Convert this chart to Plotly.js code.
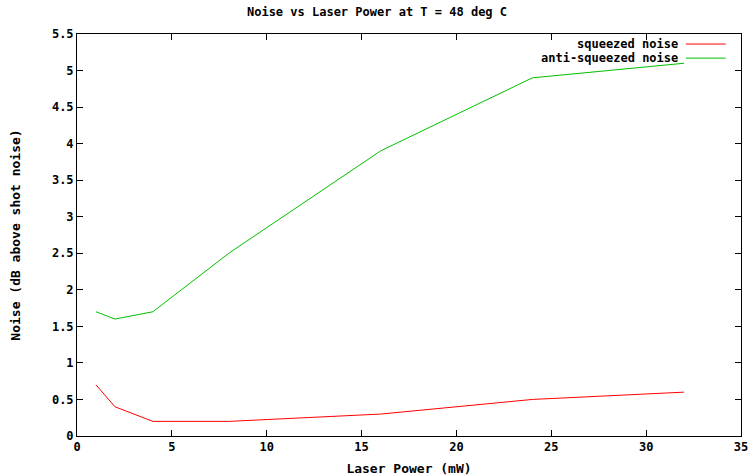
<!DOCTYPE html>
<html><head><meta charset="utf-8">
<script src="https://cdn.plot.ly/plotly-3.0.1.min.js"></script>
<style>body{margin:0;background:#fff}#chart{width:754px;height:476px}</style>
</head><body><div id="chart"></div>
<script>
const power = [1, 2, 4, 8, 16, 24, 32];
const squeezed = [0.7, 0.4, 0.2, 0.2, 0.3, 0.5, 0.6];
const antiSqueezed = [1.7, 1.6, 1.7, 2.5, 3.9, 4.9, 5.1];
const seriesNames = ["squeezed noise", "anti-squeezed noise"];
const seriesColors = ["#ff0000", "#00c000"];

const fam = "DejaVu Sans Mono, monospace";
const font = {family: fam, size: 13, color: "#000"};
const traces = [
  {x: power, y: squeezed, name: seriesNames[0], mode: "lines", line: {color: seriesColors[0], width: 1}},
  {x: power, y: antiSqueezed, name: seriesNames[1], mode: "lines", line: {color: seriesColors[1], width: 1}}
];
const legY = [0.975, 0.94];
const annotations = seriesNames.map((n, i) => ({
  xref: "paper", yref: "paper", x: 0.906, y: legY[i], xanchor: "right", yanchor: "middle",
  text: "<b>" + n + "</b>", showarrow: false, font: {family: fam, size: 12, color: "#000"}, borderpad: 0
}));
const shapes = seriesNames.map((n, i) => ({
  type: "line", xref: "paper", yref: "paper", x0: 0.917, x1: 0.977, y0: legY[i], y1: legY[i],
  line: {color: seriesColors[i], width: 1}
}));
const axisCommon = {
  showgrid: false, zeroline: false, showline: true, mirror: "ticks", linecolor: "#000", linewidth: 1,
  ticks: "inside", ticklen: 6, tickcolor: "#000", tickfont: {family: fam, size: 12, color: "#000", weight: "bold"}
};
const layout = {
  width: 754, height: 476,
  margin: {l: 77, r: 13, t: 34, b: 40},
  paper_bgcolor: "#fff", plot_bgcolor: "#fff",
  showlegend: false,
  title: {text: "<b>Noise vs Laser Power at T = 48 deg C</b>", font: {family: fam, size: 12, color: "#000"}, x: 0.5, xanchor: "center", y: 0.975, yanchor: "middle"},
  xaxis: Object.assign({}, axisCommon, {range: [0, 35], dtick: 5, title: {text: "<b>Laser Power (mW)</b>", font: font, standoff: 10}}),
  yaxis: Object.assign({}, axisCommon, {range: [0, 5.5], dtick: 0.5, title: {text: "<b>Noise (dB above shot noise)</b>", font: font, standoff: 28}}),
  annotations: annotations, shapes: shapes
};
Plotly.newPlot("chart", traces, layout, {staticPlot: true, displayModeBar: false});
</script></body></html>
